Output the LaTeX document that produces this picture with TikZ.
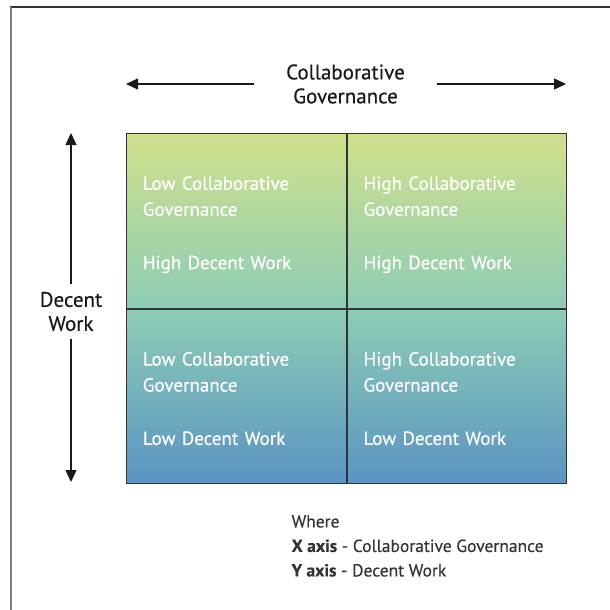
\documentclass[tikz,border=0pt]{standalone}
\usepackage{fontspec}
\setmainfont{PT Sans}[FakeBold=0.4]
\usetikzlibrary{arrows.meta,positioning}
\definecolor{gridtop}{HTML}{D0E08C}
\definecolor{gridmid}{HTML}{8DCDB5}
\definecolor{gridbot}{HTML}{5B93C3}
\definecolor{linegray}{HTML}{333333}
\tikzstyle{cell}=[draw=linegray,line width=1.2pt,minimum width=219.5pt,minimum height=174.5pt,text width=187pt,text height=14pt,text depth=76pt,align=left,inner xsep=16pt,text=white,font=\fontsize{19}{26}\selectfont]
\tikzstyle{axarrow}=[-{Triangle[length=12pt,width=11pt]},line width=1.3pt,draw=black!90]
\tikzstyle{axlabel}=[align=center,text=black!90,font=\fontsize{21}{24}\selectfont]

\begin{document}
\begin{tikzpicture}[x=1pt,y=-1pt]
\tikzstyle{note}=[align=left,inner sep=0pt,text=linegray,font=\fontsize{17.5}{24.5}\selectfont]
\useasboundingbox (0,0) rectangle (610,610);
\draw [linegray,line width=1.3pt] (10,7) -- (610,7);
\draw [gray,line width=1.6pt] (11,7) -- (11,610);
% the four quadrants
\node (lohi) [cell,top color=gridtop,bottom color=gridmid,anchor=north west] at (126,133) {Low Collaborative\\Governance\\[27.3pt]High Decent Work};
\node (hihi) [cell,top color=gridtop,bottom color=gridmid,right=0pt of lohi] {High Collaborative\\Governance\\[27.3pt]High Decent Work};
\node (lolo) [cell,top color=gridmid,bottom color=gridbot,below=0pt of lohi] {Low Collaborative\\Governance\\[27.3pt]Low Decent Work};
\node (hilo) [cell,top color=gridmid,bottom color=gridbot,right=0pt of lolo] {High Collaborative\\Governance\\[27.3pt]Low Decent Work};
% axes
\node (xlab) [axlabel,minimum width=182pt] at (345.5,84) {Collaborative\\Governance};
\node (ylab) [axlabel,minimum height=55pt] at (71,311.5) {Decent\\Work};
\coordinate (xleft) at (126,84);
\coordinate (xright) at (566,84);
\coordinate (ytop) at (71,133);
\coordinate (ybot) at (71,482);
\draw [axarrow] (xlab) -- (xleft);
\draw [axarrow] (xlab) -- (xright);
\draw [axarrow] (ylab) -- (ytop);
\draw [axarrow] (ylab) -- (ybot);
% legend
\node (where) [note,anchor=north west] at (291.5,515) {Where\\\textbf{X axis} - Collaborative Governance\\\textbf{Y axis} - Decent Work};
\end{tikzpicture}
\end{document}
